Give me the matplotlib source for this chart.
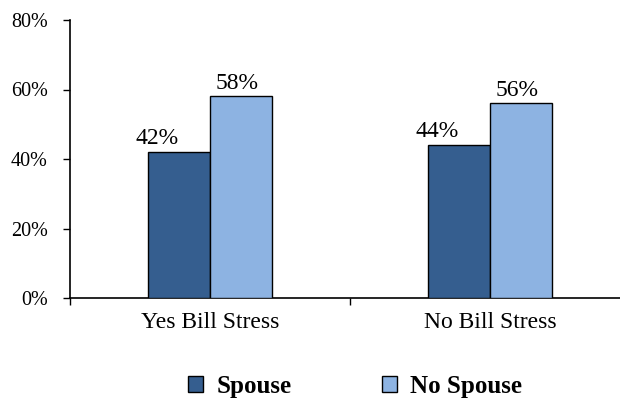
import matplotlib.pyplot as plt
from matplotlib.patches import Patch
import numpy as np

plt.rcParams['font.family'] = ['Liberation Serif', 'DejaVu Serif']

categories = ['Yes Bill Stress', 'No Bill Stress']
series_names = ['Spouse', 'No Spouse']
spouse = [42, 44]
no_spouse = [58, 56]
colors = ['#355E8F', '#8DB3E2']
yticks = [0, 20, 40, 60, 80]

fig = plt.figure(figsize=(6.2, 4.05), dpi=100)
ax = fig.add_axes([70 / 620, 1 - 298 / 405, 560 / 620, 278 / 405])

centers = np.arange(len(categories)) + 0.5
width = 0.222
label_shift = [-16, -3]  # label offsets in points, one per series

for i, vals in enumerate([spouse, no_spouse]):
    xs = centers + (i - 0.5) * width
    bars = ax.bar(xs, vals, width, color=colors[i], edgecolor='black',
                  linewidth=1.0, zorder=3)
    for b, v in zip(bars, vals):
        ax.annotate(f'{v}%', (b.get_x() + b.get_width() / 2, v),
                    xytext=(label_shift[i], 2), textcoords='offset points',
                    ha='center', va='bottom', fontsize=17)

ax.set_xlim(0, 2)
ax.set_ylim(0, 80)
ax.set_yticks(yticks)
ax.set_yticklabels([f'{t}%' for t in yticks], fontsize=14.5)
ax.set_xticks([0, 1, 2])
ax.set_xticklabels([])
ax.set_xticks(centers, minor=True)
ax.set_xticklabels(categories, minor=True, fontsize=17)
ax.tick_params(axis='x', which='major', direction='out', length=5, width=1)
ax.tick_params(axis='x', which='minor', length=0, pad=10)
ax.tick_params(axis='y', direction='out', length=5, width=1, pad=11)

for s in ['top', 'right']:
    ax.spines[s].set_visible(False)
for s in ['left', 'bottom']:
    ax.spines[s].set_linewidth(1.2)

handles = [Patch(facecolor=c, edgecolor='black', linewidth=1) for c in colors]
fig.legend(handles, series_names, loc='center', bbox_to_anchor=(355 / 620, 1 - 386 / 405),
           ncol=2, frameon=False, handlelength=0.6, handleheight=0.6,
           handletextpad=0.55, columnspacing=3.6,
           prop={'weight': 'bold', 'size': 18})

fig.savefig('out.png', dpi=100)
